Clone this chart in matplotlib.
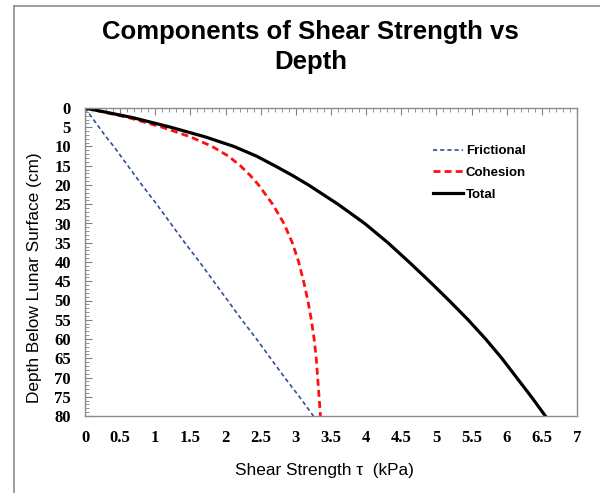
import matplotlib
matplotlib.use("Agg")
import matplotlib.pyplot as plt
from matplotlib.ticker import MultipleLocator
from matplotlib.lines import Line2D

# depth below lunar surface (cm)
depth = [0, 2.5, 5, 7.5, 10, 12.5, 15, 17.5, 20, 25, 30, 35, 40, 45, 50, 55, 60, 65, 70, 75, 80]

# shear strength components (kPa)
frictional = [0.00, 0.10, 0.20, 0.30, 0.41, 0.51, 0.61, 0.71, 0.81, 1.02, 1.22, 1.42, 1.63, 1.83,
              2.03, 2.23, 2.44, 2.64, 2.84, 3.05, 3.25]
cohesion = [0.00, 0.62, 1.10, 1.50, 1.81, 2.04, 2.21, 2.35, 2.47, 2.67, 2.83, 2.95, 3.04, 3.11,
            3.17, 3.22, 3.26, 3.29, 3.31, 3.33, 3.35]
total = [0.00, 0.68, 1.22, 1.71, 2.12, 2.44, 2.70, 2.95, 3.18, 3.60, 3.98, 4.31, 4.61, 4.90,
         5.18, 5.45, 5.70, 5.93, 6.14, 6.35, 6.55]

xticks = [0, 0.5, 1, 1.5, 2, 2.5, 3, 3.5, 4, 4.5, 5, 5.5, 6, 6.5, 7]
xticklabels = ["0", "0.5", "1", "1.5", "2", "2.5", "3", "3.5", "4", "4.5", "5", "5.5", "6", "6.5", "7"]

fig = plt.figure(figsize=(6, 4.93), dpi=100)
ax = fig.add_axes([85 / 600, 1 - 416 / 493, 492 / 600, 308 / 493])

ax.plot(frictional, depth, color="#2F4F96", lw=1.2, ls=(0, (2.5, 1.8)), label="Frictional")
ax.plot(cohesion, depth, color="#FF1010", lw=2.0, ls=(0, (2.5, 1.5)), label="Cohesion")
ax.plot(total, depth, color="black", lw=2.3, label="Total")

ax.set_xlim(0, 7)
ax.set_ylim(80, 0)

ax.set_xticks(xticks)
ax.set_xticklabels(xticklabels)
ax.xaxis.set_minor_locator(MultipleLocator(0.1))
ax.yaxis.set_major_locator(MultipleLocator(5))
ax.yaxis.set_minor_locator(MultipleLocator(1))

for lbl in ax.get_xticklabels() + ax.get_yticklabels():
    lbl.set_fontfamily("Liberation Serif")
    lbl.set_fontweight("bold")
    lbl.set_fontsize(12)

ax.tick_params(axis="x", which="both", top=True, bottom=False, labelbottom=True,
               direction="in", color="#808080", pad=10)
ax.tick_params(axis="y", which="both", left=True, right=False, direction="in",
               color="#808080", pad=10)
ax.tick_params(which="major", length=5, width=0.8)
ax.tick_params(which="minor", length=3, width=0.6)

for sp in ax.spines.values():
    sp.set_color("#8C8C8C")
    sp.set_linewidth(1.0)

ax.set_xlabel("Shear Strength \u03c4  (kPa)", family="Liberation Sans", fontsize=12.4, va="center")
ax.xaxis.set_label_coords(0.486, -(470 - 416) / 308)
ax.set_ylabel("Depth Below Lunar Surface (cm)", family="Liberation Sans", fontsize=12.4, va="center")
ax.yaxis.set_label_coords((35 - 85) / 492, 1 - (278 - 108) / 308)

fig.text(0.518, 0.904, "Components of Shear Strength vs\nDepth", ha="center", va="center",
         family="Liberation Sans", weight="bold", fontsize=18.5, linespacing=1.3)

leg = ax.legend(loc="upper left", bbox_to_anchor=(0.707, 0.88), frameon=False,
                prop=dict(family="Liberation Sans", weight="bold", size=9.5),
                handlelength=2.3, handletextpad=0.2, labelspacing=0.72,
                borderpad=0, borderaxespad=0)

# thin gray frame lines at the top and left of the picture
fig.add_artist(Line2D([14 / 600, 1], [1 - 6 / 493, 1 - 6 / 493], color="#8C8C8C", lw=1.2))
fig.add_artist(Line2D([14 / 600, 14 / 600], [0, 1 - 6 / 493], color="#8C8C8C", lw=1.2))

fig.savefig("out.png", dpi=100)
